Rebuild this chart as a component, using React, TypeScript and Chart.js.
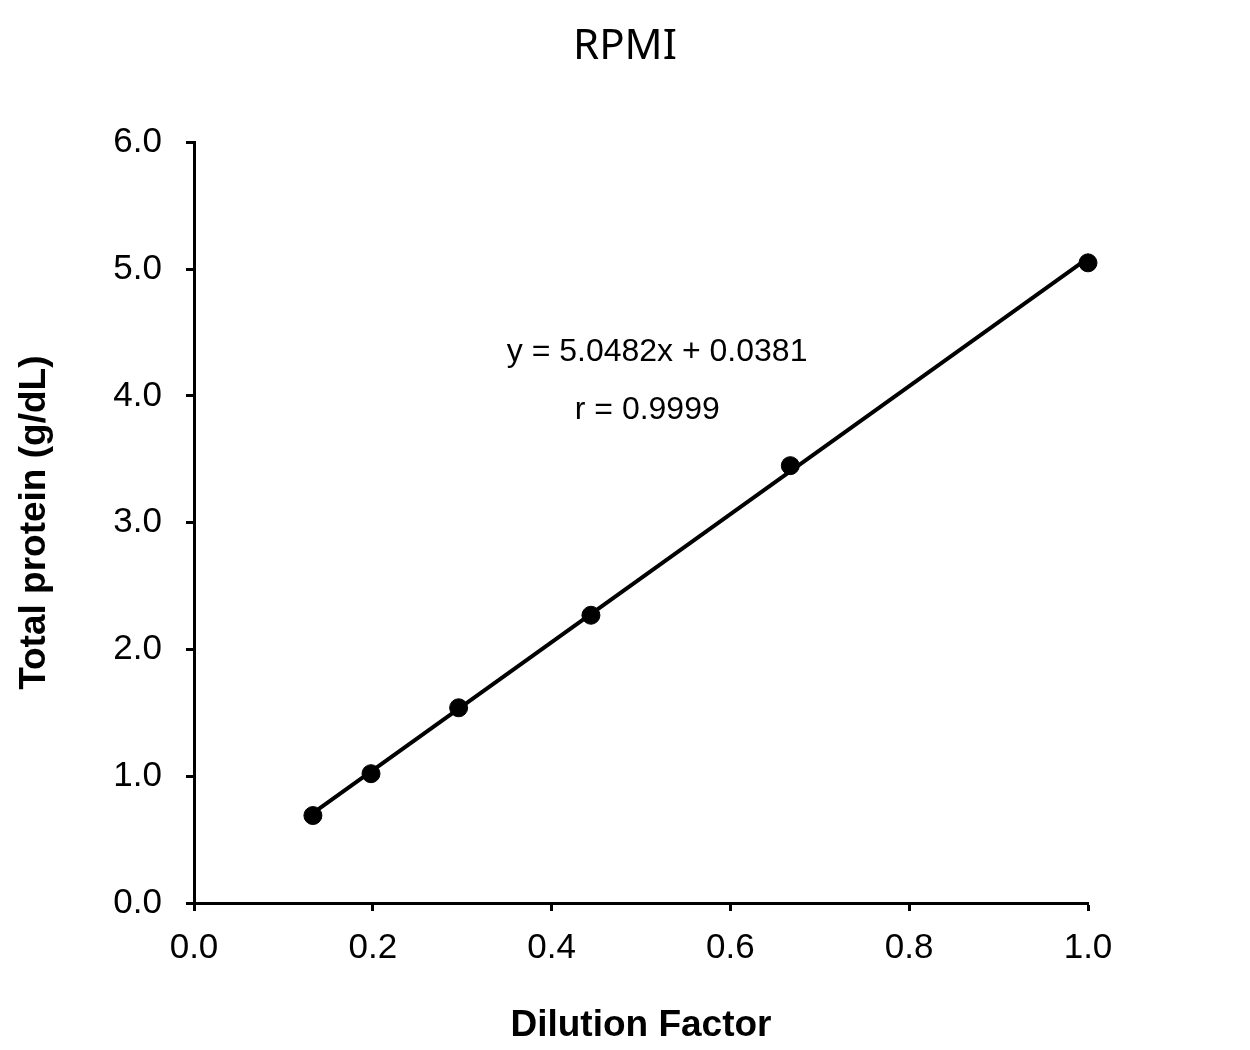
import { useEffect, useRef } from "react";
import Chart from "chart.js/auto";

const dilution = [0.133, 0.198, 0.296, 0.444, 0.667, 1.0];
const protein = [0.69, 1.02, 1.54, 2.27, 3.45, 5.05];

// fit reported on the chart
const slope = 5.0482;
const intercept = 0.0381;
const fitLabels = ["y = 5.0482x + 0.0381", "r = 0.9999"];
const fitLabelX = [0.518, 0.507];
const fitLabelY = [4.345, 3.89];

const sans = "'Liberation Sans', Arial, sans-serif";

const fitText = {
  id: "fitText",
  afterDatasetsDraw(chart: any) {
    const { ctx, scales } = chart;
    ctx.save();
    ctx.fillStyle = "#000";
    ctx.font = `32px ${sans}`;
    ctx.textAlign = "center";
    ctx.textBaseline = "middle";
    fitLabels.forEach((t, i) => {
      ctx.fillText(t, scales.x.getPixelForValue(fitLabelX[i]), scales.y.getPixelForValue(fitLabelY[i]));
    });
    ctx.restore();
  },
};

export default function App() {
  const canvasRef = useRef<HTMLCanvasElement | null>(null);

  useEffect(() => {
    document.body.style.margin = "0";
    if (!canvasRef.current) return;

    const xMin = Math.min(...dilution);
    const xMax = Math.max(...dilution);

    const chart = new Chart(canvasRef.current, {
      type: "scatter",
      data: {
        datasets: [
          {
            type: "line",
            label: "Fit",
            data: [
              { x: xMin, y: slope * xMin + intercept },
              { x: xMax, y: slope * xMax + intercept },
            ],
            borderColor: "#000",
            borderWidth: 4,
            pointRadius: 0,
            clip: false,
          },
          {
            label: "RPMI",
            data: dilution.map((x, i) => ({ x, y: protein[i] })),
            backgroundColor: "#000",
            borderColor: "#000",
            pointRadius: 9,
            clip: false,
          },
        ],
      },
      options: {
        responsive: false,
        animation: false,
        layout: { padding: 0 },
        plugins: {
          legend: { display: false },
          tooltip: { enabled: false },
          title: {
            display: true,
            text: "RPMI",
            color: "#000",
            font: { family: "'Noto Sans', sans-serif", size: 42, weight: "normal" },
            padding: { top: 22, bottom: 70 },
          },
        },
        scales: {
          x: {
            type: "linear",
            min: 0,
            max: 1,
            afterFit: (s: any) => {
              s.height = 147;
            },
            ticks: {
              stepSize: 0.2,
              color: "#000",
              padding: 16,
              font: { family: sans, size: 35 },
              callback: (v: any) => Number(v).toFixed(1),
            },
            grid: {
              drawOnChartArea: false,
              drawTicks: true,
              tickLength: 8,
              tickColor: "#000",
              tickWidth: 3,
            },
            border: { display: true, color: "#000", width: 3 },
            title: {
              display: true,
              text: "Dilution Factor",
              color: "#000",
              font: { family: sans, size: 37, weight: "bold" },
              padding: { top: 0, bottom: 2 },
            },
          },
          y: {
            type: "linear",
            min: 0,
            max: 6,
            afterFit: (s: any) => {
              s.width = 194;
            },
            ticks: {
              stepSize: 1,
              color: "#000",
              padding: 24,
              font: { family: sans, size: 35 },
              callback: (v: any) => Number(v).toFixed(1),
            },
            grid: {
              drawOnChartArea: false,
              drawTicks: true,
              tickLength: 8,
              tickColor: "#000",
              tickWidth: 3,
            },
            border: { display: true, color: "#000", width: 3 },
            title: {
              display: true,
              text: "Total protein (g/dL)",
              color: "#000",
              font: { family: sans, size: 37, weight: "bold" },
              padding: { top: 13, bottom: 0 },
            },
          },
          // empty right-hand axis that reserves the margin right of the plot
          yRight: {
            type: "linear",
            position: "right",
            min: 0,
            max: 6,
            afterFit: (s: any) => {
              s.width = 162;
            },
            ticks: { display: false },
            grid: { display: false },
            border: { display: false },
          },
        },
      },
      plugins: [fitText],
    });

    return () => chart.destroy();
  }, []);

  return (
    <div style={{ width: 1250, height: 1050, background: "#fff" }}>
      <canvas ref={canvasRef} width={1250} height={1050} />
    </div>
  );
}
